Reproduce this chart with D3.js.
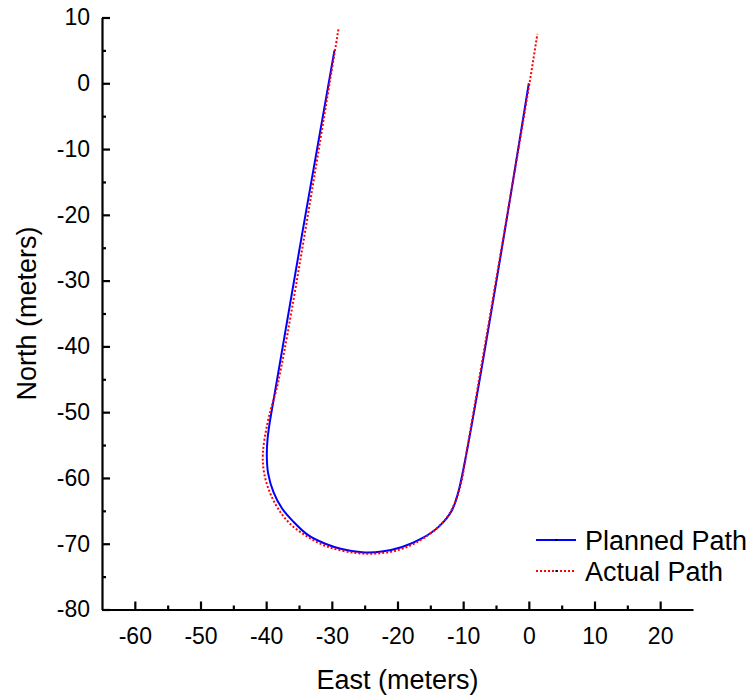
<!DOCTYPE html>
<html>
<head>
<meta charset="utf-8">
<script src="https://cdn.jsdelivr.net/npm/d3@7"></script>
<style>
  html, body { margin: 0; padding: 0; background: #fff; }
  svg { display: block; font-family: "Liberation Sans", Arial, Helvetica, sans-serif; }
</style>
</head>
<body>
<svg id="chart" width="752" height="698"></svg>
<script>
// ---- data ----
const plannedEast  = [-29.6, -39.4, -39.8, -39.9, -39.7, -38.9, -37.6, -35.9, -33.6, -31.0, -28.5, -25.4, -22.4, -19.3, -16.3, -13.7, -11.7, -10.6, 0];
const plannedNorth = [5, -51.2, -54.2, -56.8, -59.3, -62.1, -64.6, -66.6, -68.7, -70.0, -70.8, -71.3, -71.2, -70.5, -69.2, -67.4, -64.9, -61.6, 0];

const actualEast  = [-29.0, -29.6, -38.1, -39.7, -40.5, -40.3, -39.4, -37.9, -36.1, -33.6, -30.5, -26.4, -23.4, -20.4, -17.3, -14.3, -12.2, -10.9, -10.2, -9.6, 0.1, 1.3];
const actualNorth = [8.2, 4.5, -45.1, -51.2, -56.3, -59.3, -62.3, -65.1, -67.2, -69.0, -70.5, -71.4, -71.5, -71.1, -69.9, -67.9, -65.6, -62.8, -60.3, -56.8, 0, 7.5];

const xMajorTicks = [-60, -50, -40, -30, -20, -10, 0, 10, 20];
const xMinorTicks = [-55, -45, -35, -25, -15, -5, 5, 15];
const yMajorTicks = [10, 0, -10, -20, -30, -40, -50, -60, -70, -80];
const yMinorTicks = [5, -5, -15, -25, -35, -45, -55, -65, -75];

const seriesNames = ["Planned Path", "Actual Path"];
const xLabel = "East (meters)";
const yLabel = "North (meters)";

// ---- layout ----
const svg = d3.select("#chart");
const x = d3.scaleLinear().domain([-65, 25]).range([102, 693]);
const y = d3.scaleLinear().domain([-80, 10]).range([609.5, 17.5]);
const fmt = d => String(d);

// axes
const gx = svg.append("g").attr("transform", `translate(0,${y(-80)})`);
gx.call(d3.axisBottom(x).tickValues(xMajorTicks).tickSizeInner(-8).tickSizeOuter(0).tickPadding(18).tickFormat(fmt));
const gxm = svg.append("g").attr("transform", `translate(0,${y(-80)})`);
gxm.call(d3.axisBottom(x).tickValues(xMinorTicks).tickSizeInner(-4).tickSizeOuter(0).tickFormat(""));
gxm.select(".domain").remove();

const gy = svg.append("g").attr("transform", `translate(${x(-65)},0)`);
gy.call(d3.axisLeft(y).tickValues(yMajorTicks).tickSizeInner(-8).tickSizeOuter(0).tickPadding(12).tickFormat(fmt));
const gym = svg.append("g").attr("transform", `translate(${x(-65)},0)`);
gym.call(d3.axisLeft(y).tickValues(yMinorTicks).tickSizeInner(-4).tickSizeOuter(0).tickFormat(""));
gym.select(".domain").remove();

svg.selectAll(".domain").attr("stroke", "#000").attr("stroke-width", 2.2);
svg.selectAll(".tick line").attr("stroke", "#000").attr("stroke-width", 2.2);
svg.selectAll(".tick text").attr("font-size", 23).attr("fill", "#000")
   .attr("font-family", "'Liberation Sans', Arial, sans-serif");

// axis titles
svg.append("text").attr("x", (x(-65) + x(25)) / 2).attr("y", 689)
  .attr("text-anchor", "middle").attr("font-size", 27).attr("fill", "#000").text(xLabel);
svg.append("text").attr("transform", `translate(36,${(y(-80) + y(10)) / 2}) rotate(-90)`)
  .attr("text-anchor", "middle").attr("font-size", 27).attr("fill", "#000").text(yLabel);

// lines
const line = d3.line().x(d => x(d[0])).y(d => y(d[1])).curve(d3.curveCatmullRom.alpha(0.5));
const planned = plannedEast.map((e, i) => [e, plannedNorth[i]]);
const actual = actualEast.map((e, i) => [e, actualNorth[i]]);

svg.append("path").datum(planned).attr("d", line)
  .attr("fill", "none").attr("stroke", "#0000ff").attr("stroke-width", 2);
svg.append("path").datum(actual).attr("d", line)
  .attr("fill", "none").attr("stroke", "#ff0000").attr("stroke-width", 2)
  .attr("stroke-dasharray", "2,2");

// legend
const legend = svg.append("g");
const legY = [540, 571];
const legStyles = [
  { color: "#0000ff", dash: null },
  { color: "#ff0000", dash: "2,2" }
];
seriesNames.forEach((name, i) => {
  legend.append("line").attr("x1", 536).attr("x2", 576).attr("y1", legY[i]).attr("y2", legY[i])
    .attr("stroke", legStyles[i].color).attr("stroke-width", 2)
    .attr("stroke-dasharray", legStyles[i].dash);
  legend.append("rect").attr("x", 555.5).attr("y", legY[i] - 1).attr("width", 2).attr("height", 2).attr("fill", "#000");
  legend.append("text").attr("x", 585).attr("y", legY[i]).attr("dy", "0.36em")
    .attr("font-size", 27).attr("fill", "#000").text(name);
});
</script>
</body>
</html>
